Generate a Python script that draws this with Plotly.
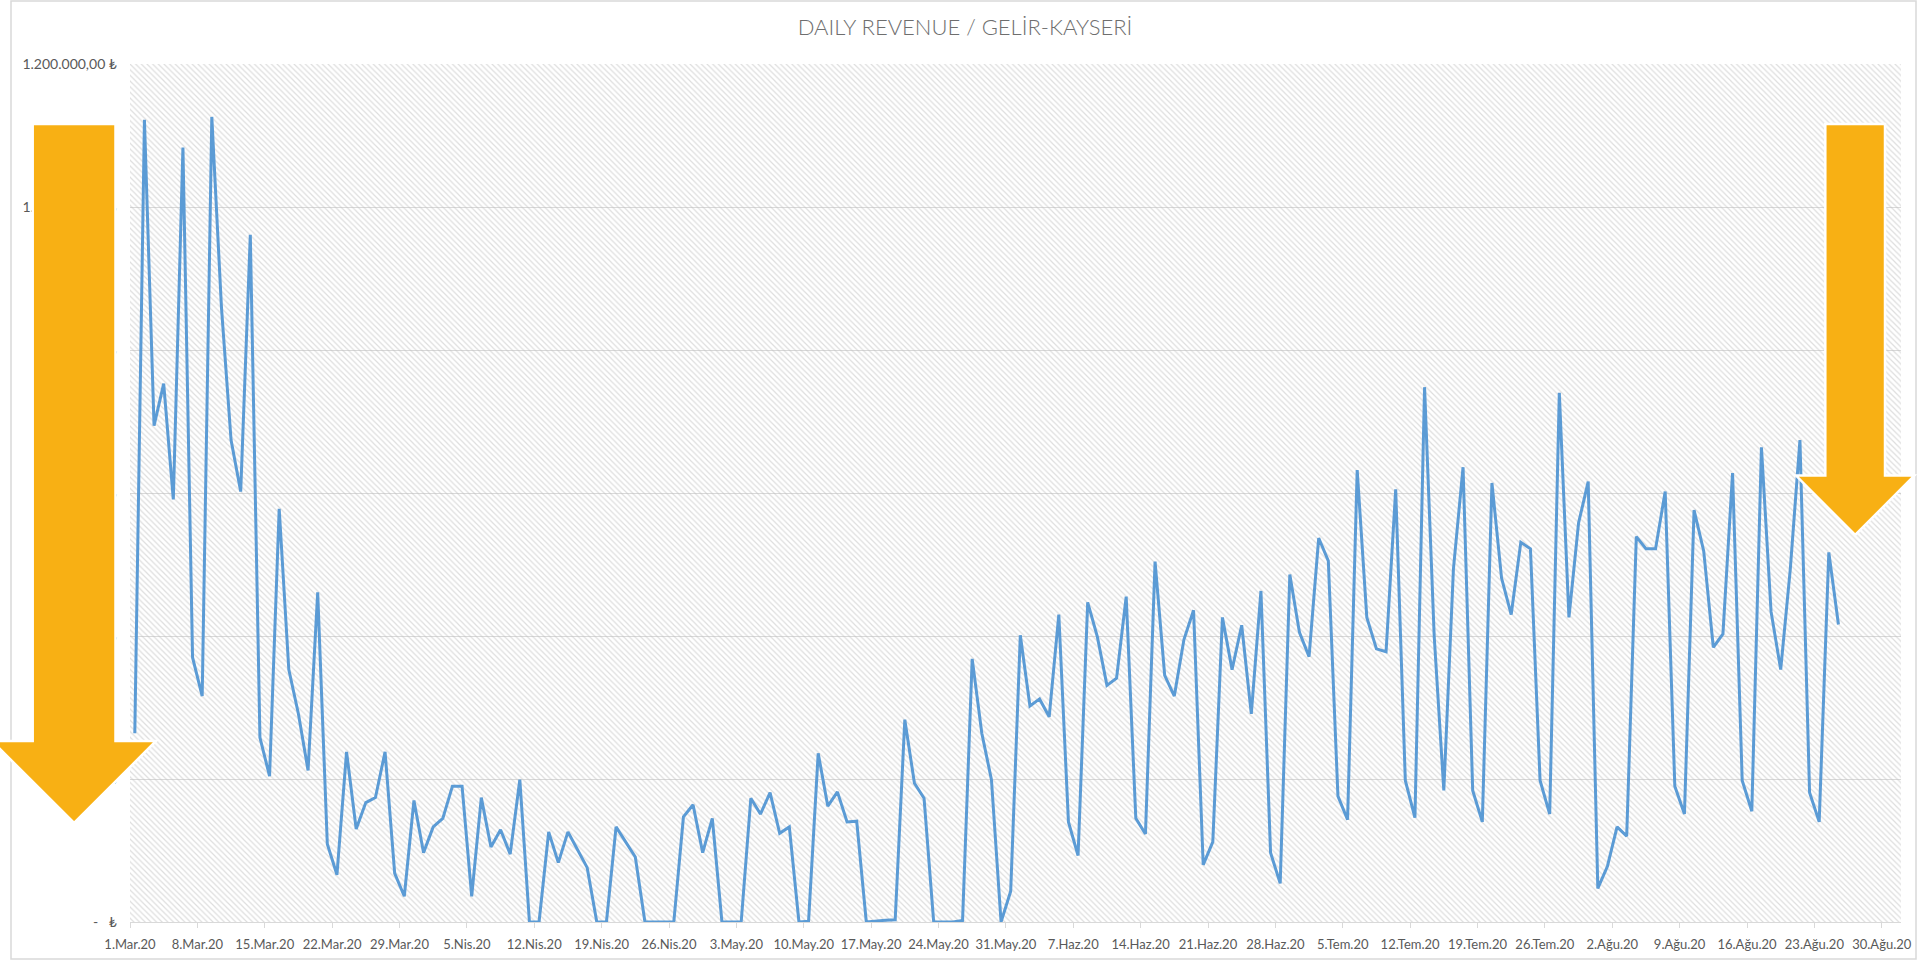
import pandas as pd
import plotly.graph_objects as go

# Daily revenue (TL), Kayseri, 1 Mar 2020 - 25 Aug 2020
START_DATE = "2020-03-01"
REVENUE = [
    264000, 1122000, 694000, 753000, 591000, 1083000, 370000, 316000, 1126000, 860000,
    674000, 602000, 961000, 258000, 204000, 578000, 353000, 291000, 212000, 461000,
    109000, 66000, 238000, 130000, 167000, 174000, 238000, 68000, 36000, 170000,
    97000, 133000, 145000, 190000, 190000, 36000, 174000, 105000, 129000, 95000,
    199000, 0, 0, 126000, 83000, 126000, 101000, 76000, 0, 0,
    133000, 112000, 91000, 0, 0, 0, 0, 147000, 164000, 97000,
    145000, 0, 0, 0, 173000, 151000, 181000, 124000, 133000, 0,
    1000, 236000, 162000, 182000, 140000, 141000, 0, 1500, 2500, 3000,
    283000, 194000, 173000, 0, 0, 0, 2000, 368000, 264000, 199000,
    0, 43000, 401000, 302000, 312000, 287000, 430000, 140000, 93000, 447000,
    399000, 331000, 341000, 455000, 145000, 123000, 504000, 345000, 316000, 395000,
    436000, 80000, 112000, 426000, 353000, 415000, 291000, 463000, 97000, 54000,
    486000, 405000, 371000, 537000, 505000, 176000, 143000, 632000, 426000, 382000,
    378000, 605000, 198000, 146000, 748000, 400000, 184000, 494000, 636000, 184000,
    140000, 614000, 481000, 430000, 531000, 522000, 198000, 151000, 740000, 426000,
    558000, 616000, 47000, 78000, 133000, 120000, 539000, 522000, 522000, 602000,
    190000, 151000, 576000, 519000, 384000, 403000, 628000, 198000, 155000, 664000,
    434000, 353000, 494000, 674000, 181000, 140000, 517000, 416000,
]

X_TICK_LABELS = [
    "1.Mar.20", "8.Mar.20", "15.Mar.20", "22.Mar.20", "29.Mar.20",
    "5.Nis.20", "12.Nis.20", "19.Nis.20", "26.Nis.20",
    "3.May.20", "10.May.20", "17.May.20", "24.May.20", "31.May.20",
    "7.Haz.20", "14.Haz.20", "21.Haz.20", "28.Haz.20",
    "5.Tem.20", "12.Tem.20", "19.Tem.20", "26.Tem.20",
    "2.Ağu.20", "9.Ağu.20", "16.Ağu.20", "23.Ağu.20", "30.Ağu.20",
]
Y_TICK_VALUES = [0, 200000, 400000, 600000, 800000, 1000000, 1200000]
Y_TICK_LABELS = [
    "-\u00a0\u00a0\u00a0₺", "200.000,00 ₺", "400.000,00 ₺", "600.000,00 ₺",
    "800.000,00 ₺", "1.000.000,00 ₺", "1.200.000,00 ₺",
]

TITLE = "DAILY REVENUE / GELİR-KAYSERİ"

# figure geometry (pixels)
W, H = 1921, 963
M_L, M_R, M_T, M_B = 130, 20, 64, 41
PLOT_W = W - M_L - M_R
PLOT_H = H - M_T - M_B

TEXT_GREY = "#595959"
GRID_GREY = "#d9d9d9"
LINE_BLUE = "#5B9BD5"
ARROW_ORANGE = "#F8B014"
FONT = "Lato, Open Sans, DejaVu Sans, sans-serif"

dates = pd.date_range(START_DATE, periods=len(REVENUE), freq="D")
half_day = pd.Timedelta(hours=12)
# each day occupies one slot; ticks sit on slot boundaries
tick_vals = pd.date_range(START_DATE, periods=len(X_TICK_LABELS), freq="7D") - half_day
x_range = [pd.Timestamp(START_DATE) - half_day, pd.Timestamp("2020-08-31") + half_day]
y_range = [0, 1200000]


def px_to_paper(x, y):
    return (x - M_L) / PLOT_W, (H - M_B - y) / PLOT_H


def path_from_pixels(points):
    parts = []
    for i, (x, y) in enumerate(points):
        xp, yp = px_to_paper(x, y)
        parts.append(("M" if i == 0 else "L") + f"{xp:.5f},{yp:.5f}")
    return " ".join(parts) + " Z"


def down_arrow(x0, x1, top, base, head_l, head_r, tip_y):
    cx = (x0 + x1) / 2
    return path_from_pixels([
        (x0, top), (x1, top), (x1, base), (head_r, base),
        (cx, tip_y), (head_l, base), (x0, base),
    ])


fig = go.Figure()

# hatched plot-area background
fig.add_trace(go.Scatter(
    x=[x_range[0], x_range[1], x_range[1], x_range[0], x_range[0]],
    y=[y_range[0], y_range[0], y_range[1], y_range[1], y_range[0]],
    mode="lines", line=dict(width=0), fill="toself",
    fillcolor="rgba(0,0,0,0)",
    fillpattern=dict(shape="\\", fgcolor="#bdbdbd", size=4, solidity=0.3),
    hoverinfo="skip", showlegend=False,
))

fig.add_trace(go.Scatter(
    x=dates, y=REVENUE, mode="lines",
    line=dict(color=LINE_BLUE, width=3),
    showlegend=False,
))

l_xp0, l_yp0 = px_to_paper(11, 959)
l_xp1, l_yp1 = px_to_paper(1916, 1)

fig.update_layout(
    width=W, height=H,
    margin=dict(l=M_L, r=M_R, t=M_T, b=M_B),
    paper_bgcolor="white", plot_bgcolor="white",
    font=dict(family=FONT, color=TEXT_GREY, size=14),
    title=dict(
        text=TITLE, x=965 / W, xref="container", xanchor="center",
        y=1 - 27 / H, yref="container", yanchor="middle",
        font=dict(family=FONT, size=22, color="#6e6e6e", weight=300),
    ),
    xaxis=dict(
        type="date", range=x_range,
        tickmode="array", tickvals=tick_vals, ticktext=X_TICK_LABELS,
        tickangle=0, automargin=False,
        ticks="outside", ticklen=5, tickcolor=GRID_GREY, tickwidth=1,
        showline=True, linecolor=GRID_GREY, linewidth=1,
        showgrid=False, zeroline=False,
        ticklabelstandoff=5,
        tickfont=dict(family=FONT, size=13, color=TEXT_GREY),
    ),
    yaxis=dict(
        range=y_range, tickmode="array",
        tickvals=Y_TICK_VALUES, ticktext=Y_TICK_LABELS,
        automargin=False,
        showgrid=True, gridcolor=GRID_GREY, gridwidth=1,
        zeroline=False, showline=False, ticks="",
        ticklabelstandoff=12,
        tickfont=dict(family=FONT, size=14, color=TEXT_GREY),
    ),
    shapes=[
        # chart frame
        dict(type="rect", xref="paper", yref="paper",
             x0=l_xp0, y0=l_yp0, x1=l_xp1, y1=l_yp1,
             line=dict(color=GRID_GREY, width=1.5), layer="above"),
        # left arrow
        dict(type="path", xref="paper", yref="paper",
             path=down_arrow(32.7, 115.5, 124, 741, -8, 156, 823),
             fillcolor=ARROW_ORANGE, line=dict(color="white", width=2.5),
             layer="above"),
        # right arrow
        dict(type="path", xref="paper", yref="paper",
             path=down_arrow(1825.3, 1885, 124, 475.6, 1796, 1914.3, 535),
             fillcolor=ARROW_ORANGE, line=dict(color="white", width=2.5),
             layer="above"),
    ],
)

fig.write_html("out.html")
